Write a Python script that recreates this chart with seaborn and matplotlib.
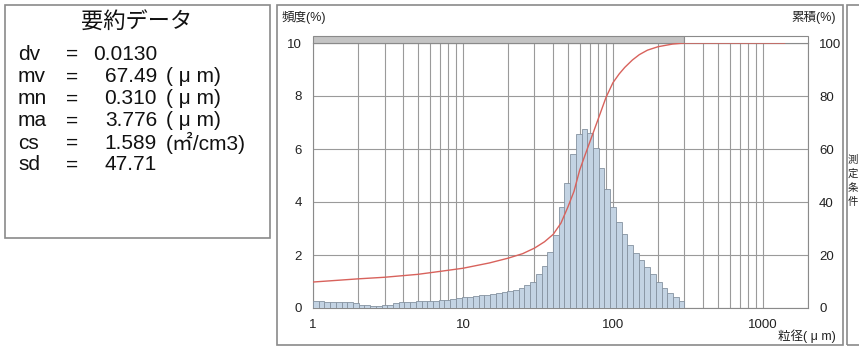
import numpy as np
import pandas as pd
import matplotlib
matplotlib.use("Agg")
import matplotlib.pyplot as plt
import seaborn as sns
from matplotlib.patches import Rectangle

# 粒度分布 (頻度 %) : 1 µm 〜 300 µm の対数ビン
freq = [0.25, 0.25, 0.24, 0.24, 0.23, 0.22, 0.22, 0.20,
        0.12, 0.10, 0.09, 0.09, 0.10, 0.12,
        0.20, 0.22, 0.23, 0.24, 0.25, 0.25, 0.26, 0.27,
        0.30, 0.32, 0.34, 0.37, 0.40,
        0.42, 0.45, 0.48, 0.50, 0.53, 0.56, 0.60, 0.63, 0.68,
        0.75, 0.85, 1.00, 1.30, 1.60, 2.10, 2.75, 3.80, 4.70, 5.80,
        6.57, 6.77, 6.60, 6.05, 5.30, 4.50, 3.80, 3.23, 2.78, 2.37,
        2.07, 1.80, 1.55, 1.30, 0.98, 0.75, 0.56, 0.41, 0.26]
size_min, size_max = 1.0, 300.0

# 累積 (%)
cum_size = [1, 1.5, 2, 3, 5, 7, 10, 15, 20, 25, 30, 35, 40, 45, 50, 55, 60,
            65, 70, 80, 90, 100, 110, 120, 135, 150, 170, 200, 250, 300, 1400]
cum_pct = [9.8, 10.5, 11.0, 11.6, 12.7, 13.8, 15.0, 17.0, 18.8, 20.5, 22.6,
           25.0, 27.8, 32.0, 38.0, 44.0, 52.0, 57.5, 62.5, 71.5, 79.5, 85.0,
           88.3, 90.8, 93.6, 95.6, 97.3, 98.6, 99.6, 100.0, 100.0]

# 要約データ
sum_keys = ["dv", "mv", "mn", "ma", "cs", "sd"]
sum_vals = ["0.0130", "67.49", "0.310", "3.776", "1.589", "47.71"]
sum_units = ["", "( μ m)", "( μ m)", "( μ m)", "(㎡/cm3)", ""]

W, H = 859, 349
sns.set_style("white")
plt.rcParams['font.family'] = ['Liberation Sans', 'Noto Sans CJK JP', 'DejaVu Sans']


def fx(x):
    return x / W


def fy(y):
    return 1 - y / H


fig = plt.figure(figsize=(W / 100, H / 100), dpi=100)
ax = fig.add_axes([fx(313), fy(308), fx(808) - fx(313), fy(43) - fy(308)])

edges = np.geomspace(size_min, size_max, len(freq) + 1)
df = pd.DataFrame({"size": np.sqrt(edges[:-1] * edges[1:]), "freq": freq})
sns.histplot(data=df, x="size", weights="freq", bins=list(np.log10(edges)), log_scale=True,
             stat="count", color="#c3d3e3", alpha=1.0,
             edgecolor="#8592a0", linewidth=0.6, ax=ax, zorder=3)

ax.set_xscale("log")
ax.set_xlim(1, 2000)
ax.set_ylim(0, 10)
ax.set_yticks([0, 2, 4, 6, 8, 10])
ax.set_xticks([1, 10, 100, 1000])
ax.set_xticklabels(["1", "10", "100", "1000"])
ax.xaxis.set_minor_locator(matplotlib.ticker.LogLocator(base=10, subs=np.arange(2, 10)))
ax.xaxis.set_minor_formatter(matplotlib.ticker.NullFormatter())
ax.grid(True, which="both", axis="x", color="#9a9a9a", lw=0.8, zorder=0)
ax.grid(True, which="major", axis="y", color="#9a9a9a", lw=0.8, zorder=0)
ax.set_axisbelow(True)
ax.tick_params(axis="both", which="both", length=0, labelsize=9.5, colors="#222")
ax.tick_params(axis="y", pad=8)
ax.tick_params(axis="x", pad=8)
ax.set_xlabel("")
ax.set_ylabel("")
for s in ax.spines.values():
    s.set_color("#8a8a8a")
    s.set_linewidth(0.8)

ax2 = ax.twinx()
sns.lineplot(x=cum_size, y=cum_pct, color="#d8625c", lw=1.0, ax=ax2, zorder=5)
ax2.set_ylim(0, 100)
ax2.set_yticks([0, 20, 40, 60, 80, 100])
ax2.tick_params(axis="y", length=0, labelsize=9.5, colors="#222", pad=8)
ax2.set_ylabel("")
for s in ax2.spines.values():
    s.set_visible(False)

# 上部のバンド
tr = ax.get_xaxis_transform()
ax.add_patch(Rectangle((1, 1.0), size_max - 1, 0.025, transform=tr, clip_on=False,
                       facecolor="#c4c4c4", edgecolor="#8a8a8a", lw=0.8, zorder=6))
ax.add_patch(Rectangle((size_max, 1.0), 2000 - size_max, 0.025, transform=tr, clip_on=False,
                       facecolor="white", edgecolor="#8a8a8a", lw=0.8, zorder=6))

fig.text(fx(282), fy(17), "頻度(%)", fontsize=9, va="center", ha="left", color="#222")
fig.text(fx(836), fy(17), "累積(%)", fontsize=9, va="center", ha="right", color="#222")
fig.text(fx(836), fy(336), "粒径( μ m)", fontsize=9, va="center", ha="right", color="#222")

# パネル枠
fig.add_artist(Rectangle((fx(5), fy(238)), fx(270) - fx(5), fy(5) - fy(238),
                         transform=fig.transFigure, fill=False, edgecolor="#8a8a8a", lw=1.2))
fig.add_artist(Rectangle((fx(277), fy(345)), fx(843) - fx(277), fy(5) - fy(345),
                         transform=fig.transFigure, fill=False, edgecolor="#8a8a8a", lw=1.2))
fig.add_artist(Rectangle((fx(847), fy(345)), fx(870) - fx(847), fy(5) - fy(345),
                         transform=fig.transFigure, fill=False, edgecolor="#8a8a8a", lw=1.2))
for i, ch in enumerate("測定条件"):
    fig.text(fx(848), fy(160 + 14 * i), ch, fontsize=7.5, va="center", ha="left", color="#222")

# 要約データ
fig.text(fx(137), fy(23), "要約データ", fontsize=16, ha="center", va="center", color="#111")
row_y = [54, 77, 99, 121, 143, 165]
for k, v, u, y in zip(sum_keys, sum_vals, sum_units, row_y):
    fig.text(fx(18), fy(y), k, fontsize=15, ha="left", va="center", color="#111")
    fig.text(fx(72), fy(y), "=", fontsize=15, ha="center", va="center", color="#111")
    fig.text(fx(157), fy(y), v, fontsize=15, ha="right", va="center", color="#111")
    if u:
        fig.text(fx(166), fy(y), u, fontsize=15, ha="left", va="center", color="#111")

fig.savefig("out.png", dpi=100, facecolor="white")
